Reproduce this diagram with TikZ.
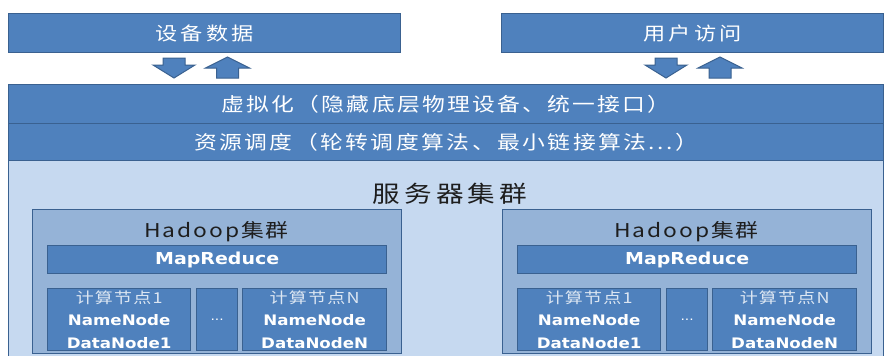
\documentclass[tikz,border=0pt]{standalone}
\usepackage{fontspec}
\setmainfont{Noto Sans CJK SC}[FakeStretch=1.2]
\newfontfamily\dvb{DejaVu Sans}[FakeStretch=1.15]
\definecolor{dk}{HTML}{4F81BD}
\definecolor{bd}{HTML}{3A6190}
\definecolor{lt}{HTML}{C6D9F0}
\definecolor{md}{HTML}{95B3D7}
\definecolor{tx}{HTML}{1E1E1E}
\definecolor{pale}{HTML}{DCE6F2}
\tikzset{
  bar/.style={draw=bd, line width=1.3pt, fill=dk, text=white, inner sep=0pt, anchor=north west},
  lightbox/.style={draw=bd, line width=1.3pt, fill=lt, inner sep=0pt, anchor=north west},
  midbox/.style={draw=bd, line width=1.3pt, fill=md, inner sep=0pt, anchor=north west},
  blk/.style={draw=bd, line width=1pt, fill=dk},
  lbl/.style={text=tx, inner sep=0pt},
  nodebox/.style={bar, align=center, font=\dvb\bfseries\fontsize{14.5}{22.5}\selectfont},
}
\newcommand\hadoopcl[2]{%
  \begin{scope}[shift={(#2,209)}]
    \node[midbox, minimum width=369pt, minimum height=144pt] (#1h) at (0,0) {};
    \node[lbl, font=\fontsize{19}{22}\selectfont\addfontfeature{LetterSpace=10}] (#1t) at (184.5,23) {Hadoop集群};
    \node[bar, minimum width=339pt, minimum height=28pt, font=\dvb\bfseries\fontsize{16.5}{18}\selectfont] (#1mr) at (15,36) {MapReduce};
    \node[nodebox, minimum width=143pt, minimum height=62pt] (#1n1) at (15,79)
      {{\normalfont\mdseries\color{pale}\fontsize{15}{22.5}\selectfont\addfontfeature{LetterSpace=8}计算节点1}\\NameNode\\DataNode1};
    \node[bar, minimum width=41pt, minimum height=62pt, font=\dvb\fontsize{12}{14}\selectfont] (#1d) at (164,79) {...};
    \node[nodebox, minimum width=144pt, minimum height=62pt] (#1nN) at (210,79)
      {{\normalfont\mdseries\color{pale}\fontsize{15}{22.5}\selectfont\addfontfeature{LetterSpace=8}计算节点N}\\NameNode\\DataNodeN};
  \end{scope}}
\newcommand\updown[2]{%
  % down arrow centred at #1, up arrow centred at #2
  \draw[blk] (#1-11,58) -- (#1+11,58) -- (#1+11,65) -- (#1+21,65) -- (#1,78) -- (#1-21,65) -- (#1-11,65) -- cycle;
  \draw[blk] (#2,57) -- (#2+22,68) -- (#2+11,68) -- (#2+11,78) -- (#2-11,78) -- (#2-11,68) -- (#2-22,68) -- cycle;}
\begin{document}
\begin{tikzpicture}[x=1pt,y=-1pt]
\clip (0,0) rectangle (884,356);
\fill[white] (0,0) rectangle (884,356);
% top boxes
\node[bar, minimum width=392pt, minimum height=39pt, font=\fontsize{18.5}{20}\selectfont\addfontfeature{LetterSpace=18}] (dev) at (8,13) {设备数据};
\node[bar, minimum width=382pt, minimum height=39pt, font=\fontsize{18.5}{20}\selectfont\addfontfeature{LetterSpace=18}] (usr) at (501,13) {用户访问};
% arrows
\updown{174}{227.5}
\updown{666}{720}
% server cluster region
\node[lightbox, minimum width=875pt, minimum height=260pt] (srv) at (8,160) {};
\node[bar, minimum width=875pt, minimum height=39pt, font=\fontsize{19}{20}\selectfont\addfontfeature{LetterSpace=12}] (virt) at (8,84) {虚拟化（隐藏底层物理设备、统一接口）};
\node[bar, minimum width=875pt, minimum height=37pt, font=\fontsize{19}{20}\selectfont\addfontfeature{LetterSpace=13}] (sched) at (8,123) {资源调度（轮转调度算法、最小链接算法...）};
\node[lbl, font=\fontsize{23}{26}\selectfont\addfontfeature{LetterSpace=18}] (srvt) at (450,194) {服务器集群};
% hadoop clusters
\hadoopcl{L}{32}
\hadoopcl{R}{502}
\end{tikzpicture}
\end{document}
